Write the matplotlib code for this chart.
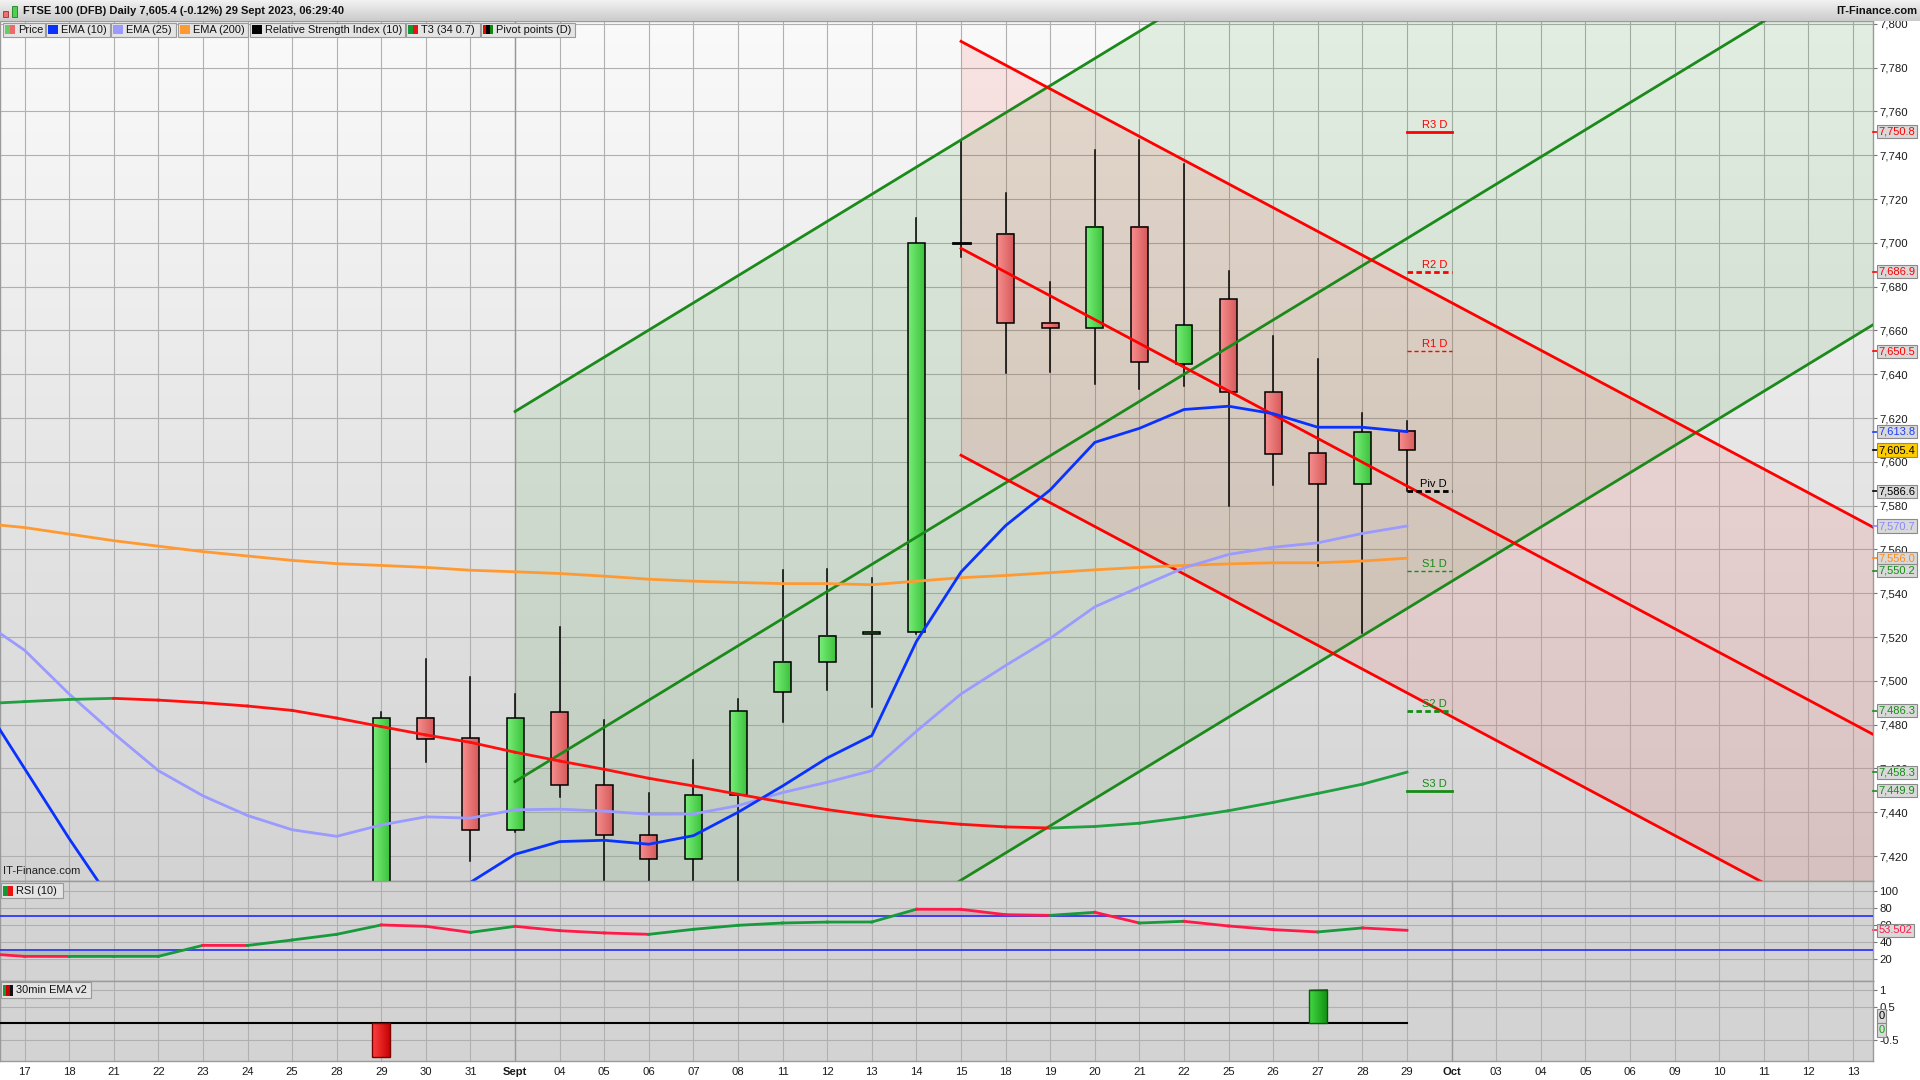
import numpy as np
import matplotlib.pyplot as plt
from matplotlib.patches import Rectangle
from matplotlib.colors import LinearSegmentedColormap

plt.rcParams['font.family'] = ['Liberation Sans', 'DejaVu Sans']

# ---------------- data ----------------
day_labels = ['17', '18', '21', '22', '23', '24', '25', '28', '29', '30', '31', 'Sept',
              '04', '05', '06', '07', '08', '11', '12', '13', '14', '15', '18', '19',
              '20', '21', '22', '25', '26', '27', '28', '29', 'Oct', '03', '04', '05',
              '06', '09', '10', '11', '12', '13']

# indicator lines: index -1 (16 Aug) .. 31 (29 Sep)
line_idx = list(range(-1, 32))
ema10 = [7492, 7460, 7428, 7398, 7388, 7381, 7376, 7373, 7372, 7384, 7395, 7408,
         7420.8, 7426.6, 7427.2, 7425.4, 7429.3, 7440, 7452, 7464.8, 7475, 7518,
         7549.7, 7570.9, 7587.2, 7608.9, 7615.3, 7623.9, 7625.4, 7622, 7615.8,
         7615.8, 7613.8]
ema25 = [7528, 7514, 7494, 7476, 7459, 7447.5, 7438.5, 7432, 7429, 7434.2, 7437.9,
         7437.3, 7441.1, 7441.4, 7440.5, 7439.1, 7439.2, 7443, 7449, 7453.7, 7459,
         7477, 7494, 7507, 7519.4, 7533.8, 7542.8, 7551.6, 7557.7, 7561, 7563,
         7567.3, 7570.7]
ema200 = [7572, 7570, 7567, 7564, 7561.5, 7559, 7557, 7555, 7553.5, 7552.7, 7551.8,
          7550.5, 7549.8, 7549, 7547.8, 7546.4, 7545.5, 7544.9, 7544.4, 7544.4,
          7543.9, 7545.5, 7547.1, 7548.1, 7549.4, 7550.7, 7551.8, 7552.7, 7553.4,
          7553.9, 7553.9, 7554.7, 7556.0]
t3 = [7489.5, 7490.5, 7491.5, 7492, 7491.2, 7490, 7488.5, 7486.5, 7483, 7479.1,
      7475.3, 7471.9, 7467.4, 7463.4, 7459.6, 7455.5, 7452, 7448.2, 7444.6, 7441.2,
      7438.4, 7436.2, 7434.5, 7433.3, 7432.8, 7433.5, 7435, 7437.6, 7440.7, 7444.5,
      7448.6, 7452.8, 7458.3]
rsi = [26.5, 22.9, 22.8, 22.85, 22.9, 35.8, 35.7, 42.1, 48.8, 59.8, 58.2, 51.1, 58.2,
       53.1, 50.4, 48.8, 54.7, 59.4, 62.1, 63.2, 63.3, 78.3, 78.2, 71.9, 71.1, 74.7,
       62.1, 64.1, 58.6, 54.3, 51.6, 56.3, 53.5]

# candles 29 Aug (8) .. 29 Sep (31)
candle_idx = list(range(8, 32))
c_open = [7400, 7482.9, 7473.8, 7431.8, 7485.6, 7452.3, 7429.5, 7418.6, 7447.8,
          7494.8, 7508.5, 7521.2, 7522.5, 7700, 7704.2, 7663.5, 7660.9, 7707.3,
          7644.8, 7674.5, 7632.1, 7604.2, 7590.1, 7614.1]
c_high = [7485.6, 7510, 7501.7, 7494, 7524.5, 7482.1, 7448.8, 7463.9, 7491.7,
          7550.5, 7551, 7547, 7711.5, 7746.9, 7722.6, 7682.3, 7742.6, 7746.8,
          7736.1, 7687, 7657.6, 7646.8, 7622.5, 7618.5]
c_low = [7395, 7463.1, 7417.9, 7431, 7447, 7400, 7400, 7400, 7400,
         7481, 7496, 7488, 7521.2, 7693.4, 7640.6, 7640.9, 7635.6, 7633.3,
         7634.6, 7579.9, 7589.6, 7552.5, 7521.8, 7586.6]
c_close = [7482.9, 7473.3, 7431.8, 7482.9, 7452.3, 7429.5, 7418.6, 7447.8, 7486.1,
           7508.5, 7520.7, 7522.5, 7700, 7700.3, 7663.5, 7660.9, 7707.3, 7645.4,
           7662.6, 7632.1, 7603.8, 7590.1, 7613.6, 7605.4]

# daily pivot points
piv_names = ['R3 D', 'R2 D', 'R1 D', 'Piv D', 'S1 D', 'S2 D', 'S3 D']
piv_vals = [7750.8, 7686.9, 7650.5, 7586.6, 7550.2, 7486.3, 7449.9]
piv_colors = ['#ff0000', '#ff0000', '#ff0000', '#000000', '#168c16', '#168c16', '#168c16']
piv_styles = ['-', (0, (2, 1.2)), (0, (3, 2)), (0, (2, 1.2)), (0, (3, 2)), (0, (2, 1.2)), '-']
piv_widths = [2, 2, 1, 2, 1, 2, 2]

# regression channels: value at start index and at index 42
green_x = [11, 42]
green_upper = [7623, 8007.4]
green_mid = [7454, 7838.4]
green_lower = [7285, 7669.4]
red_x = [21, 42]
red_upper = [7792, 7564.2]
red_mid = [7697.5, 7469.6]
red_lower = [7603, 7375.2]

# 30min EMA v2 signals
sig_idx = [8, 29]
sig_val = [-1, 1]

# last-value tags on the price scale
tag_vals = [7750.8, 7686.9, 7650.5, 7613.8, 7605.4, 7586.6, 7570.7, 7556.0, 7550.2,
            7486.3, 7458.3, 7449.9]
tag_colors = ['#ff0000', '#ff0000', '#ff0000', '#1a3cff', '#000000', '#000000',
              '#8888ff', '#ff8a1a', '#168c16', '#168c16', '#168c16', '#168c16']

# ---------------- figure ----------------
W, H = 1920, 1080
fig = plt.figure(figsize=(19.2, 10.8), dpi=100, facecolor='white')


def box(l, t, r, b):
    return [l / W, 1 - b / H, (r - l) / W, (b - t) / H]


def px(x):
    return x / W


def py(y):
    return 1 - y / H


ax = fig.add_axes(box(0, 21, 1873, 881))
ax_rsi = fig.add_axes(box(0, 881, 1873, 981))
ax_sig = fig.add_axes(box(0, 981, 1873, 1061))

XMIN, XMAX = -0.55, 41.45
grad_h = np.linspace(0, 1, 64).reshape(1, -1)
TICK_FS = 8.2

# background gradient of the price panel
ax.imshow(np.linspace(0, 1, 256).reshape(-1, 1), extent=[0, 1, 0, 1], transform=ax.transAxes,
          cmap=LinearSegmentedColormap.from_list('bg', ['#fafafa', '#d3d3d3']),
          aspect='auto', zorder=0)

# channels
ax.fill_between(green_x, green_lower, green_upper, color='#188a18', alpha=0.1, lw=0, zorder=1)
ax.fill_between(red_x, red_lower, red_upper, color='#ff2020', alpha=0.1, lw=0, zorder=1)

# candles
cm_green = LinearSegmentedColormap.from_list('g', ['#78ee78', '#3cc23c'])
cm_red = LinearSegmentedColormap.from_list('r', ['#f78e8e', '#d65a5a'])
w = 0.38
for i, o, h, l, c in zip(candle_idx, c_open, c_high, c_low, c_close):
    ax.plot([i, i], [l, h], color='black', lw=1.1, zorder=3)
    lo, hi = min(o, c), max(o, c)
    if hi - lo < 1:
        ax.plot([i - w / 2, i + w / 2], [o, o], color='black', lw=2, zorder=4)
        continue
    ax.imshow(grad_h, cmap=cm_green if c > o else cm_red, extent=[i - w / 2, i + w / 2, lo, hi],
              aspect='auto', zorder=3.5, interpolation='bilinear')
    ax.add_patch(Rectangle((i - w / 2, lo), w, hi - lo, fill=False, ec='black', lw=1.1, zorder=4))

# channel lines
for ys in (green_upper, green_mid, green_lower):
    ax.plot(green_x, ys, color='#1b8a1b', lw=2, zorder=5)
for ys in (red_upper, red_mid, red_lower):
    ax.plot(red_x, ys, color='#ff0000', lw=2, zorder=5)

# moving averages
ax.plot(line_idx, ema200, color='#ff9a33', lw=2, zorder=6)
ax.plot(line_idx, ema25, color='#9a9aff', lw=2, zorder=6)
ax.plot(line_idx, ema10, color='#0a32ff', lw=2, zorder=6)
for k in range(len(t3) - 1):
    col = '#20a040' if t3[k + 1] > t3[k] else '#ff1010'
    ax.plot(line_idx[k:k + 2], t3[k:k + 2], color=col, lw=2, zorder=6)

# pivot points
for name, v, col, ls, lw in zip(piv_names, piv_vals, piv_colors, piv_styles, piv_widths):
    ax.plot([31, 32], [v, v], color=col, ls=ls, lw=lw, zorder=6)
    ax.text(31.9, v + 0.8, name, color=col, fontsize=8, ha='right', va='bottom', zorder=7)

ax.text(3 / 1873, 0.006, 'IT-Finance.com', transform=ax.transAxes,
        fontsize=8.1, color='#222222', va='bottom', zorder=7)

ax.set_xlim(XMIN, XMAX)
ax.set_ylim(7408.6, 7801.3)
yt = list(range(7420, 7801, 20))
ax.set_yticks(yt, labels=[f'{v:,}' for v in yt])
for lab in ax.get_yticklabels():
    if lab.get_text().endswith('00'):
        lab.set_fontweight('bold')

# RSI panel
rsi_arr = np.array(rsi)
ax_rsi.set_facecolor('#d3d3d3')
ax_rsi.fill_between(line_idx, 70, rsi_arr, where=rsi_arr > 70, interpolate=True,
                    color='#c49aa6', alpha=0.55, lw=0, zorder=2)
ax_rsi.fill_between(line_idx, 30, rsi_arr, where=rsi_arr < 30, interpolate=True,
                    color='#8fb89a', alpha=0.55, lw=0, zorder=2)
ax_rsi.axhline(70, color='#2828ff', lw=1.2, zorder=3)
ax_rsi.axhline(30, color='#2828ff', lw=1.2, zorder=3)
for k in range(len(rsi) - 1):
    col = '#169a3c' if rsi[k + 1] > rsi[k] else '#ff1a4a'
    ax_rsi.plot(line_idx[k:k + 2], rsi[k:k + 2], color=col, lw=2, zorder=4)
ax_rsi.set_xlim(XMIN, XMAX)
ax_rsi.set_ylim(-6.1, 111.5)
ax_rsi.set_yticks([20, 40, 60, 80, 100], labels=['20', '40', '60', '80', '100'])
ax_rsi.get_yticklabels()[-1].set_fontweight('bold')

# 30min EMA v2 panel
ax_sig.set_facecolor('#d3d3d3')
ax_sig.plot([-1, 31], [0, 0], color='black', lw=1.5, zorder=3)
cm_sig_r = LinearSegmentedColormap.from_list('sr', ['#ff4040', '#c40000'])
cm_sig_g = LinearSegmentedColormap.from_list('sg', ['#44d844', '#119011'])
bw = 0.41
for i, v in zip(sig_idx, sig_val):
    ax_sig.imshow(grad_h, cmap=cm_sig_g if v > 0 else cm_sig_r,
                  extent=[i - bw / 2, i + bw / 2, min(0, v), max(0, v)],
                  aspect='auto', zorder=4, interpolation='bilinear')
    ax_sig.add_patch(Rectangle((i - bw / 2, min(0, v)), bw, abs(v), fill=False,
                               ec='#7a0000' if v < 0 else '#0a5a0a', lw=1, zorder=5))
ax_sig.set_xlim(XMIN, XMAX)
ax_sig.set_ylim(-1.13, 1.27)
ax_sig.set_yticks([-0.5, 0.5, 1], labels=['-0.5', '0.5', '1'])

# common axis styling
for a in (ax, ax_rsi, ax_sig):
    a.set_xticks(range(len(day_labels)))
    a.set_axisbelow(True)
    a.grid(True, color='#b0b0b0', lw=0.8)
    a.yaxis.tick_right()
    a.tick_params(axis='y', length=3, width=0.8, color='#777777', pad=1.5,
                  labelsize=TICK_FS, labelcolor='#1a1a1a')
    a.tick_params(axis='x', length=0, labelbottom=False)
    for s in a.spines.values():
        s.set_color('#9a9a9a')
        s.set_linewidth(1)
ax.axvline(11, color='#979797', lw=1, zorder=0.6)
for a in (ax_rsi, ax_sig):
    for m in (11, 32):
        a.axvline(m, color='#9a9a9a', lw=1, zorder=0.6)

ax_sig.tick_params(axis='x', labelbottom=True, pad=4, labelsize=8.1, labelcolor='#1a1a1a')
ax_sig.set_xticklabels(day_labels)
for lab in ax_sig.get_xticklabels():
    lab.set_fontfamily(['Liberation Sans Narrow', 'Liberation Sans'])
    if lab.get_text() in ('Sept', 'Oct'):
        lab.set_fontweight('bold')

# value tags on the right scales
tag_tr = ax.get_yaxis_transform()
for v, col in zip(tag_vals, tag_colors):
    fc = '#ffcc00' if v == 7605.4 else '#d9d9d9'
    ax.plot([1.0, 1.0028], [v, v], color=col, lw=1.2, transform=tag_tr, clip_on=False, zorder=9)
    ax.text(1.0031, v, f'{v:,.1f}', color=col, fontsize=8, ha='left', va='center',
            transform=tag_tr, clip_on=False, zorder=10,
            bbox=dict(boxstyle='square,pad=0.14', fc=fc, ec='#8a8a8a', lw=0.8))
rsi_tr = ax_rsi.get_yaxis_transform()
ax_rsi.plot([1.0, 1.0028], [53.5, 53.5], color='#ff1a4a', lw=1.2, transform=rsi_tr, clip_on=False)
ax_rsi.text(1.0031, 53.5, '53.502', color='#ff1a4a', fontsize=8, va='center',
            transform=rsi_tr, clip_on=False, zorder=10,
            bbox=dict(boxstyle='square,pad=0.14', fc='#d9d9d9', ec='#8a8a8a', lw=0.8))
sig_tr = ax_sig.get_yaxis_transform()
for yv, col in ((0.22, '#000000'), (-0.2, '#14a014')):
    ax_sig.text(1.0031, yv, '0', color=col, fontsize=8, va='center',
                transform=sig_tr, clip_on=False, zorder=10,
                bbox=dict(boxstyle='square,pad=0.14', fc='#d9d9d9', ec='#8a8a8a', lw=0.8))

# ---------------- header and legend boxes ----------------
hdr = fig.add_axes(box(0, 0, 1920, 21))
hdr.imshow(np.linspace(0, 1, 64).reshape(-1, 1), extent=[0, 1, 0, 1], aspect='auto',
           cmap=LinearSegmentedColormap.from_list('h', ['#f2f2f2', '#cbcbcb']))
hdr.set_axis_off()
fig.add_artist(Rectangle((px(3), py(17)), 5 / W, 6 / H, fc='#f07070', ec='#a03030', lw=0.6))
fig.add_artist(Rectangle((px(11.5), py(17)), 5 / W, 11 / H, fc='#50d050', ec='#208020', lw=0.6))
fig.text(px(23), py(11.5), 'FTSE 100 (DFB) Daily 7,605.4 (-0.12%) 29 Sept 2023, 06:29:40',
         fontsize=8, fontweight='bold', va='center', color='#111111')
fig.text(px(1917), py(11.5), 'IT-Finance.com', fontsize=8, fontweight='bold',
         va='center', ha='right', color='#111111')


def label_box(l, r, t, b, colors, text):
    fig.add_artist(Rectangle((px(l), py(b)), (r - l) / W, (b - t) / H, fc='#e4e4e4',
                             ec='#9a9a9a', lw=0.8, zorder=20))
    sw = 10 / len(colors)
    for k, col in enumerate(colors):
        fig.add_artist(Rectangle((px(l + 2 + k * sw), py(b - 2.5)), sw / W, (b - t - 5) / H,
                                 fc=col, ec='none', zorder=21))
    fig.text(px(l + 15), py((t + b) / 2), text, fontsize=7.9, va='center',
             color='#111111', zorder=22)


legend_items = [(3, 45, ['#66cc66', '#ee6a6a'], 'Price'),
                (46, 110, ['#0a32ff'], 'EMA (10)'),
                (111, 176, ['#9a9aff'], 'EMA (25)'),
                (178, 248, ['#ff9a33'], 'EMA (200)'),
                (250, 405, ['#000000'], 'Relative Strength Index (10)'),
                (406, 480, ['#119933', '#ee1111'], 'T3 (34 0.7)'),
                (481, 575, ['#ee0000', '#000000', '#118811'], 'Pivot points (D)')]
for l, r, cols, txt in legend_items:
    label_box(l, r, 22.7, 36.7, cols, txt)

label_box(1, 63, 883, 898, ['#119933', '#ee1111'], 'RSI (10)')
label_box(1, 91, 982, 998, ['#119933', '#cc0000', '#111111'], '30min EMA v2')

fig.savefig('out.png', dpi=100, facecolor='white')
